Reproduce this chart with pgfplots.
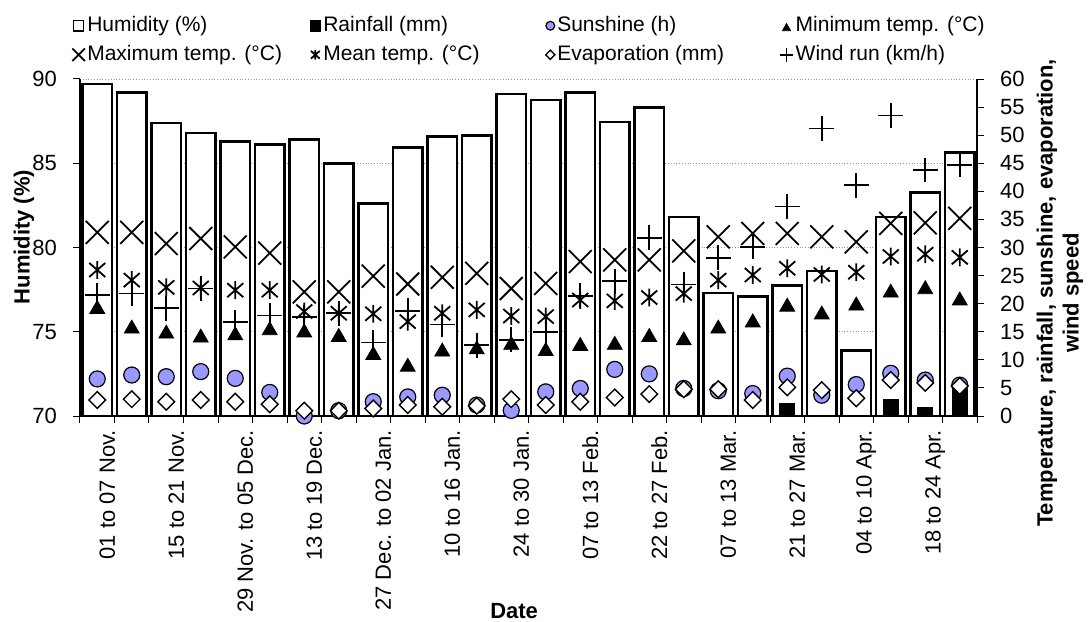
\documentclass[border=0pt]{standalone}
\usepackage{pgfplots}
\pgfplotsset{compat=1.18}
\usepackage{pgfplotstable}
\usepackage{fontspec}
\setmainfont{Liberation Sans}

\definecolor{sunblue}{HTML}{9999FF}
\newcommand\tickfont{\fontsize{11}{13}\selectfont}
\newcommand\legfont{\fontsize{10.5}{12}\selectfont}
\newcommand\labfont{\fontsize{11}{13}\selectfont\bfseries}

% Excel-style asterisk: an x with a vertical bar
\pgfdeclareplotmark{xast}{%
  \pgfpathmoveto{\pgfqpoint{-\pgfplotmarksize}{-.875\pgfplotmarksize}}%
  \pgfpathlineto{\pgfqpoint{\pgfplotmarksize}{.875\pgfplotmarksize}}%
  \pgfpathmoveto{\pgfqpoint{-\pgfplotmarksize}{.875\pgfplotmarksize}}%
  \pgfpathlineto{\pgfqpoint{\pgfplotmarksize}{-.875\pgfplotmarksize}}%
  \pgfpathmoveto{\pgfqpoint{0pt}{-1.12\pgfplotmarksize}}%
  \pgfpathlineto{\pgfqpoint{0pt}{1.12\pgfplotmarksize}}%
  \pgfusepathqstroke
}

\pgfplotstableread{
i  hum   rain sun  tmin tmax tmean evap wind
0  89.7  0    6.6  19.5 32.7 26.0  2.85 21.5
1  89.2  0    7.3  16.0 32.7 24.2  3.0  21.8
2  87.4  0    7.0  15.1 30.7 22.9  2.55 19.2
3  86.8  0    7.9  14.4 31.6 22.8  2.85 22.7
4  86.3  0    6.7  14.8 30.1 22.4  2.55 16.7
5  86.1  0    4.2  15.7 29.0 22.4  2.1  17.9
6  86.4  0    0.0  15.3 22.1 18.6  0.95 17.6
7  85.0  0    0.95 14.5 22.1 18.3  0.95 18.3
8  82.6  0    2.55 11.3 24.9 18.2  1.35 13.1
9  85.95 0    3.4  9.2  23.5 16.8  1.95 18.75
10 86.6  0    3.7  11.9 24.7 18.3  1.65 16.3
11 86.65 0    1.95 12.3 25.4 18.9  1.8  12.6
12 89.1  0    1.0  13.1 22.7 17.8  3.0  13.6
13 88.75 0    4.3  12.0 23.6 17.7  1.95 15.0
14 89.2  0    4.9  12.9 27.5 20.65 2.55 21.4
15 87.45 0    8.3  13.1 27.8 20.5  3.3  24.0
16 88.3  0    7.5  14.5 27.8 21.1  3.9  31.75
17 81.8  0    4.9  13.9 29.4 21.8  4.75 23.4
18 77.3  0    4.5  16.0 31.9 24.2  4.75 28.2
19 77.1  0    4.0  17.1 32.5 25.1  2.85 30.1
20 77.75 2.25 7.1  19.9 32.5 26.3  5.1  37.3
21 78.6  0    3.7  18.5 31.9 25.2  4.6  51.2
22 73.9  0    5.6  20.1 31.0 25.6  3.15 41.1
23 81.8  2.9  7.6  22.4 34.3 28.4  6.4  53.5
24 83.25 1.5  6.4  23.0 34.4 28.8  5.9  43.8
25 85.65 4.8  5.5  21.0 35.2 28.25 5.35 44.7
}\weekly

\pgfplotsset{
  leg/.style={legend image code/.code={%
    \draw[##1, every mark/.append style={scale=0.55}] plot coordinates {(2.6pt,0pt)};}},
}

\begin{document}
\begin{tikzpicture}
\useasboundingbox (-40pt,-102.5pt) rectangle (505.5pt,208pt);

% humidity bars on the left axis
\begin{axis}[
  scale only axis, width=448.5pt, height=168.5pt,
  xmin=-0.5, xmax=25.5, ymin=70, ymax=90,
  axis y line*=left, axis x line*=bottom,
  axis line style={black, line width=0.6pt},
  ytick={70,75,...,90},
  ymajorgrids, grid style={gray!80, densely dotted, line width=0.4pt},
  tick align=outside, major tick length=3.5pt, minor tick length=3.5pt,
  tick style={black, line width=0.5pt},
  /pgf/number format/assume math mode=true,
  tick label style={font=\tickfont},
  yticklabel style={xshift=-4.5pt},
  xtick={0,1,...,25},
  xticklabels={01 to 07 Nov.,{},15 to 21 Nov.,{},29 Nov. to 05 Dec.,{},13 to 19 Dec.,{},27 Dec. to 02 Jan.,{},10 to 16 Jan.,{},24 to 30 Jan.,{},07 to 13 Feb.,{},22 to 27 Feb.,{},07 to 13 Mar.,{},21 to 27 Mar.,{},04 to 10 Apr.,{},18 to 24 Apr.,{}},
  major x tick style={draw=none},
  minor xtick={-0.5,0.5,...,25.5},
  xticklabel style={rotate=90, anchor=east, yshift=-5pt},
  ylabel={Humidity (\%)},
  ylabel style={font=\labfont, at={(axis description cs:-0.0625,0.531)}, anchor=center},
  xlabel={Date},
  xlabel style={font=\labfont, at={(axis description cs:0.484,-0.579)}, anchor=center},
]
\addplot[ybar, bar width=0.85, fill=white, draw=black, line width=1.3pt]
  table[x=i, y=hum]{\weekly};
\end{axis}

% everything on the right axis
\begin{axis}[
  scale only axis, width=448.5pt, height=168.5pt,
  xmin=-0.5, xmax=25.5, ymin=0, ymax=60,
  axis x line=none, axis y line*=right,
  axis line style={black, line width=0.6pt},
  ytick={0,5,...,60},
  tick align=outside, major tick length=3.5pt,
  tick style={black, line width=0.5pt},
  /pgf/number format/assume math mode=true,
  tick label style={font=\tickfont},
  yticklabel style={xshift=4.5pt},
  clip=false,
  ylabel={Temperature, rainfall, sunshine, evaporation,\\ wind speed},
  ylabel style={font=\labfont, align=center, at={(axis description cs:1.0925,0.365)}, anchor=center},
  legend columns=4,
  legend cell align=left,
  legend style={draw=none, fill=none, inner sep=0pt, at={(-0.009,1.115)}, anchor=west,
    font=\legfont, nodes={inner sep=1.2pt}, row sep=3pt,
    /tikz/every even column/.append style={column sep=0pt}},
]
\addlegendimage{legend image code/.code={\draw[black, fill=white, line width=0.6pt] (0pt,-2.6pt) rectangle (5.2pt,2.6pt);}}
\addlegendentry{\makebox[110pt][l]{Humidity (\%)}}

\addplot[ybar, bar width=0.44, fill=black, draw=black, line width=0.4pt,
  legend image code/.code={\fill[black] (0pt,-2.6pt) rectangle (5.2pt,2.6pt);}]
  table[x=i, y=rain]{\weekly};
\addlegendentry{\makebox[110pt][l]{Rainfall (mm)}}

\addplot[only marks, black, mark=*, mark size=4pt,
  mark options={fill=sunblue, draw=black, line width=0.6pt}, leg]
  table[x=i, y=sun]{\weekly};
\addlegendentry{\makebox[110pt][l]{Sunshine (h)}}

\addplot[only marks, black, mark=triangle*, mark size=4.3pt,
  mark options={fill=black, draw=black, yshift=-1.3pt}, leg]
  table[x=i, y=tmin]{\weekly};
\addlegendentry{\makebox[110pt][l]{Minimum temp. (°C)}}

\addplot[only marks, black, mark=x, mark size=8.1pt,
  mark options={draw=black, line width=0.9pt}, leg]
  table[x=i, y=tmax]{\weekly};
\addlegendentry{\makebox[110pt][l]{Maximum temp. (°C)}}

\addplot[only marks, black, mark=xast, mark size=4pt,
  mark options={draw=black, line width=0.9pt}, leg]
  table[x=i, y=tmean]{\weekly};
\addlegendentry{\makebox[110pt][l]{Mean temp. (°C)}}

\addplot[only marks, black, mark=square*, mark size=2.95pt,
  mark options={rotate=45, fill=white, draw=black, line width=0.7pt}, leg]
  table[x=i, y=evap]{\weekly};
\addlegendentry{\makebox[110pt][l]{Evaporation (mm)}}

\addplot[only marks, black, mark=+, mark size=6.2pt,
  mark options={draw=black, line width=0.9pt}, leg]
  table[x=i, y=wind]{\weekly};
\addlegendentry{\makebox[110pt][l]{Wind run (km/h)}}
\end{axis}
\end{tikzpicture}
\end{document}
